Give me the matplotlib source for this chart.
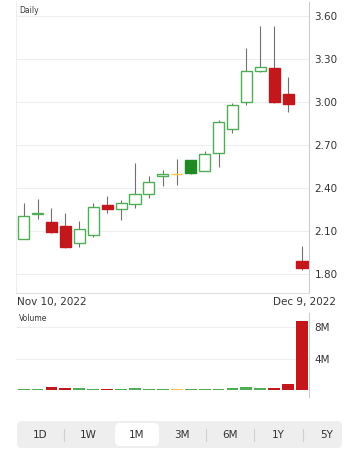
import numpy as np
import matplotlib.pyplot as plt
from matplotlib.patches import FancyBboxPatch

# Daily OHLC, Nov 10 - Dec 9, 2022 (21 sessions)
opens = [2.045, 2.215, 2.16, 2.135, 2.016, 2.072, 2.28, 2.253, 2.288, 2.358, 2.483,
         2.495, 2.595, 2.518, 2.644, 2.811, 3.00, 3.216, 3.237, 3.056, 1.89]
closes = [2.205, 2.225, 2.09, 1.99, 2.114, 2.267, 2.255, 2.295, 2.358, 2.442, 2.495,
          2.495, 2.505, 2.637, 2.86, 2.979, 3.216, 3.244, 3.00, 2.986, 1.84]
highs = [2.295, 2.32, 2.26, 2.225, 2.17, 2.295, 2.344, 2.316, 2.574, 2.483, 2.525,
         2.60, 2.595, 2.66, 2.875, 2.993, 3.377, 3.53, 3.53, 3.174, 1.995]
lows = [2.045, 2.18, 2.085, 1.98, 1.99, 2.058, 2.225, 2.176, 2.26, 2.33, 2.414,
        2.42, 2.497, 2.518, 2.546, 2.784, 2.98, 3.21, 2.993, 2.93, 1.828]
volume_m = [0.22, 0.22, 0.35, 0.28, 0.28, 0.22, 0.2, 0.17, 0.32, 0.17, 0.12,
            0.17, 0.17, 0.17, 0.22, 0.32, 0.47, 0.32, 0.32, 0.75, 8.75]
price_ticks = [1.80, 2.10, 2.40, 2.70, 3.00, 3.30, 3.60]
vol_ticks = [4, 8]
start_label, end_label = "Nov 10, 2022", "Dec 9, 2022"
ranges = ["1D", "1W", "1M", "3M", "6M", "1Y", "5Y"]
selected = "1M"

GREEN = '#4fae55'
GREEN_FILL = '#1f8a24'
RED = '#c3171b'
YELLOW = '#f6c64a'
WICK = '#707070'

W, H = 358, 450
fig = plt.figure(figsize=(W / 100, H / 100), dpi=100)


def box(x0, y0, x1, y1):
    return [x0 / W, 1 - y1 / H, (x1 - x0) / W, (y1 - y0) / H]


opens = np.array(opens)
closes = np.array(closes)
highs = np.array(highs)
lows = np.array(lows)
x = np.arange(len(opens))
prev = np.r_[closes[0] - 1, closes[:-1]]
colors = np.where(np.isclose(closes, prev), YELLOW,
                  np.where(closes > prev, GREEN, RED)).tolist()
hollow = closes >= opens
face = ['white' if h else (GREEN_FILL if c == GREEN else c) for h, c in zip(hollow, colors)]
edge = [c if h else f for h, c, f in zip(hollow, colors, face)]

# price panel
ax = fig.add_axes(box(16, 2, 309, 293))
ax.set_xlim(-0.55, 20.5)
ax.set_ylim(1.667, 3.698)
for t in price_ticks:
    ax.axhline(t, color='#eeeeee', lw=0.8, zorder=0)
body_lo = np.minimum(opens, closes)
body_hi = np.maximum(opens, closes)
ax.vlines(x, body_hi, highs, color=WICK, lw=0.8, zorder=1)
ax.vlines(x, lows, body_lo, color=WICK, lw=0.8, zorder=1)
ax.bar(x, body_hi - body_lo, bottom=body_lo, width=0.8, color=face,
       edgecolor=edge, linewidth=1.0, zorder=2)
ax.yaxis.tick_right()
ax.set_yticks(price_ticks)
ax.set_yticklabels([f"{t:.2f}" for t in price_ticks])
ax.tick_params(axis='y', length=0, pad=4, labelsize=7.5, labelcolor='#333333')
ax.set_xticks([])
ax.spines['top'].set_visible(False)
ax.spines['left'].set_color('#eeeeee')
ax.spines['bottom'].set_color('#dddddd')
ax.spines['right'].set_color('#cccccc')
ax.text(0.01, 0.985, "Daily", transform=ax.transAxes, fontsize=5.5,
        color='#333333', va='top', ha='left')

fig.text(17 / W, 1 - 302 / H, start_label, fontsize=7.5, color='#333333', va='center')
fig.text(336 / W, 1 - 302 / H, end_label, fontsize=7.5, color='#333333',
         va='center', ha='right')

# volume panel
vax = fig.add_axes(box(16, 313, 309, 397))
vax.set_xlim(-0.55, 20.5)
vax.set_ylim(-0.85, 9.75)
for t in vol_ticks:
    vax.axhline(t, color='#eeeeee', lw=0.8, zorder=0)
vax.bar(x, volume_m, width=0.85, color=colors, zorder=2)
vax.yaxis.tick_right()
vax.set_yticks(vol_ticks)
vax.set_yticklabels([f"{t}M" for t in vol_ticks])
vax.tick_params(axis='y', length=0, pad=4, labelsize=7.5, labelcolor='#333333')
vax.set_xticks([])
for s in ['top', 'left', 'bottom']:
    vax.spines[s].set_visible(False)
vax.spines['right'].set_color('#cccccc')
vax.text(0.01, 0.99, "Volume", transform=vax.transAxes, fontsize=5.5,
         color='#333333', va='top', ha='left')

# range selector
bar = FancyBboxPatch((17 / W, 1 - 448 / H), 325 / W, 27 / H,
                     boxstyle="round,pad=0,rounding_size=0.012",
                     transform=fig.transFigure, facecolor='#eeeeef', edgecolor='none')
fig.patches.append(bar)
xs = [40, 88, 137, 182, 230, 278, 327]
for i, (lab, xc) in enumerate(zip(ranges, xs)):
    if lab == selected:
        sel = FancyBboxPatch(((xc - 22) / W, 1 - 446 / H), 44 / W, 23 / H,
                             boxstyle="round,pad=0,rounding_size=0.012",
                             transform=fig.transFigure, facecolor='white', edgecolor='none')
        fig.patches.append(sel)
    fig.text(xc / W, 1 - 435 / H, lab, fontsize=7.5, color='#333333',
             ha='center', va='center')
    if i < len(ranges) - 1 and selected not in (lab, ranges[i + 1]):
        xm = (xc + xs[i + 1]) / 2
        fig.add_artist(plt.Line2D([xm / W, xm / W], [1 - 441 / H, 1 - 429 / H],
                                  color='#cfcfd2', lw=0.8, transform=fig.transFigure))

fig.savefig("out.png", dpi=100)
